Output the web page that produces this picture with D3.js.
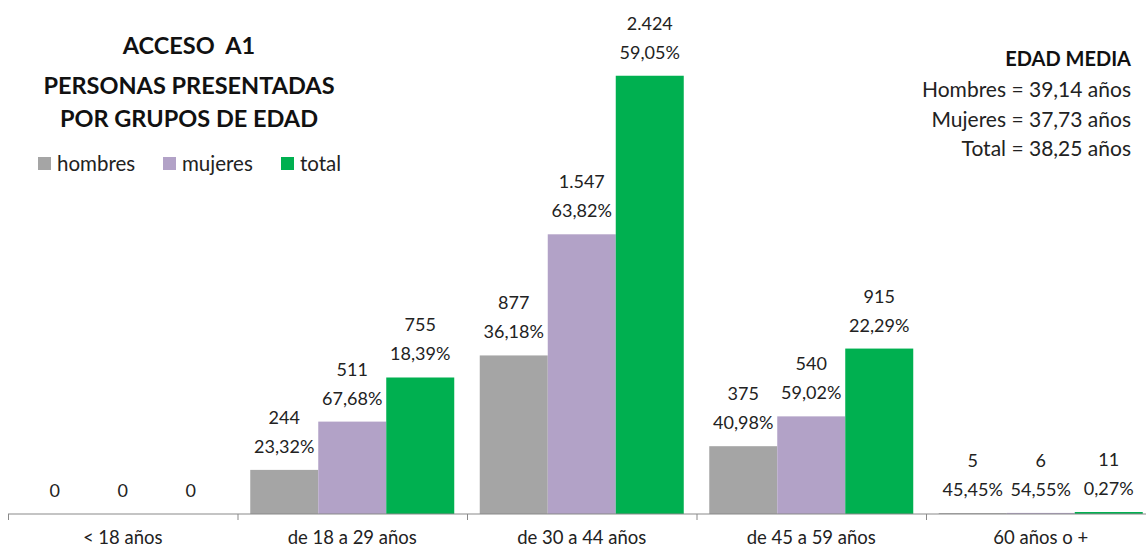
<!DOCTYPE html>
<html>
<head>
<meta charset="utf-8">
<script src="https://cdn.jsdelivr.net/npm/d3@7"></script>
<style>
  body { margin: 0; background: #fff; }
  text { font-family: Lato, "Open Sans", sans-serif; }
</style>
</head>
<body>
<div id="chart"></div>
<script>
// data
const categories = ["< 18 años", "de 18 a 29 años", "de 30 a 44 años", "de 45 a 59 años", "60 años o +"];
const seriesNames = ["hombres", "mujeres", "total"];
const hombres = [0, 244, 877, 375, 5];
const mujeres = [0, 511, 1547, 540, 6];
const total = [0, 755, 2424, 915, 11];
const hombresPct = [null, 23.32, 36.18, 40.98, 45.45];
const mujeresPct = [null, 67.68, 63.82, 59.02, 54.55];
const totalPct = [null, 18.39, 59.05, 22.29, 0.27];
const titleLines = ["ACCESO  A1", "PERSONAS PRESENTADAS", "POR GRUPOS DE EDAD"];
const edadMedia = ["Hombres = 39,14 años", "Mujeres = 37,73 años", "Total = 38,25 años"];

const colors = {hombres: "#A5A5A5", mujeres: "#B2A2C7", total: "#00B050"};

const width = 1146, height = 549;
const es = d3.formatLocale({decimal: ",", thousands: ".", grouping: [3], currency: ["", "€"]});
const fmtN = es.format(",d");
const fmtP = es.format(".2f");

const values = {hombres: hombres, mujeres: mujeres, total: total};
const pcts = {hombres: hombresPct, mujeres: mujeresPct, total: totalPct};

const rows = [];
categories.forEach((c, i) => {
  seriesNames.forEach(s => {
    rows.push({cat: c, series: s, value: values[s][i], pct: pcts[s][i]});
  });
});

let svg = d3.select("#chart")
  .append("svg")
  .attr("width", width)
  .attr("height", height);

// scales
const x = d3.scaleBand()
  .domain(categories)
  .range([8, 1155.5]);

const xs = d3.scaleBand()
  .domain(seriesNames)
  .range([12.75, x.bandwidth() - 12.75]);

const y = d3.scaleLinear()
  .domain([0, 2500])
  .range([514, 62]);

// bars
svg.selectAll("rect.bar")
  .data(rows)
  .enter()
  .append("rect")
    .attr("class", "bar")
    .attr("x", d => x(d.cat) + xs(d.series))
    .attr("y", d => y(d.value))
    .attr("width", xs.bandwidth())
    .attr("height", d => y(0) - y(d.value))
    .attr("fill", d => colors[d.series]);

// x axis
const axis = svg.append("g")
  .attr("transform", `translate(0, ${y(0)})`);
axis.append("line")
  .attr("x1", 8).attr("x2", width)
  .attr("stroke", "#898989").attr("stroke-width", 1);
axis.selectAll("line.tick")
  .data(categories)
  .enter()
  .append("line")
    .attr("class", "tick")
    .attr("x1", d => x(d) + 0.5).attr("x2", d => x(d) + 0.5)
    .attr("y1", 0).attr("y2", 6)
    .attr("stroke", "#898989");
axis.selectAll("text")
  .data(categories)
  .enter()
  .append("text")
    .attr("x", d => x(d) + x.bandwidth() / 2)
    .attr("y", 30)
    .attr("text-anchor", "middle")
    .attr("font-size", 18.5)
    .attr("fill", "#222")
    .text(d => d);

// data labels
const lab = svg.selectAll("g.lab")
  .data(rows)
  .enter()
  .append("g")
    .attr("class", "lab")
    .attr("transform", d => `translate(${x(d.cat) + xs(d.series) + xs.bandwidth() / 2}, ${y(d.value)})`);
lab.append("text")
  .attr("y", d => d.pct == null ? -17 : -46)
  .attr("text-anchor", "middle")
  .attr("font-size", 18)
  .attr("fill", "#222")
  .text(d => fmtN(d.value));
lab.filter(d => d.pct != null)
  .append("text")
  .attr("y", -17)
  .attr("text-anchor", "middle")
  .attr("font-size", 18)
  .attr("fill", "#222")
  .text(d => fmtP(d.pct) + "%");

// title
svg.append("g").selectAll("text")
  .data(titleLines)
  .enter()
  .append("text")
    .attr("x", 189)
    .attr("y", (d, i) => [54, 94, 127][i])
    .attr("text-anchor", "middle")
    .attr("font-size", 23.5)
    .attr("font-weight", "bold")
    .attr("fill", "#111")
    .style("white-space", "pre")
    .text(d => d);

// legend
const legX = [38, 163, 281];
const leg = svg.append("g").selectAll("g")
  .data(seriesNames)
  .enter()
  .append("g")
    .attr("transform", (d, i) => `translate(${legX[i]}, 157)`);
leg.append("rect")
  .attr("width", 13).attr("height", 13)
  .attr("fill", d => colors[d]);
leg.append("text")
  .attr("x", 19).attr("y", 14)
  .attr("font-size", 20.5)
  .attr("fill", "#222")
  .text(d => d);

// edad media
const em = svg.append("g");
em.append("text")
  .attr("x", 1131).attr("y", 66)
  .attr("text-anchor", "end")
  .attr("font-size", 20)
  .attr("font-weight", "bold")
  .attr("fill", "#111")
  .text("EDAD MEDIA");
em.selectAll("text.line")
  .data(edadMedia)
  .enter()
  .append("text")
    .attr("class", "line")
    .attr("x", 1131)
    .attr("y", (d, i) => 97 + i * 29.5)
    .attr("text-anchor", "end")
    .attr("font-size", 21)
    .attr("fill", "#222")
    .text(d => d);
</script>
</body>
</html>
